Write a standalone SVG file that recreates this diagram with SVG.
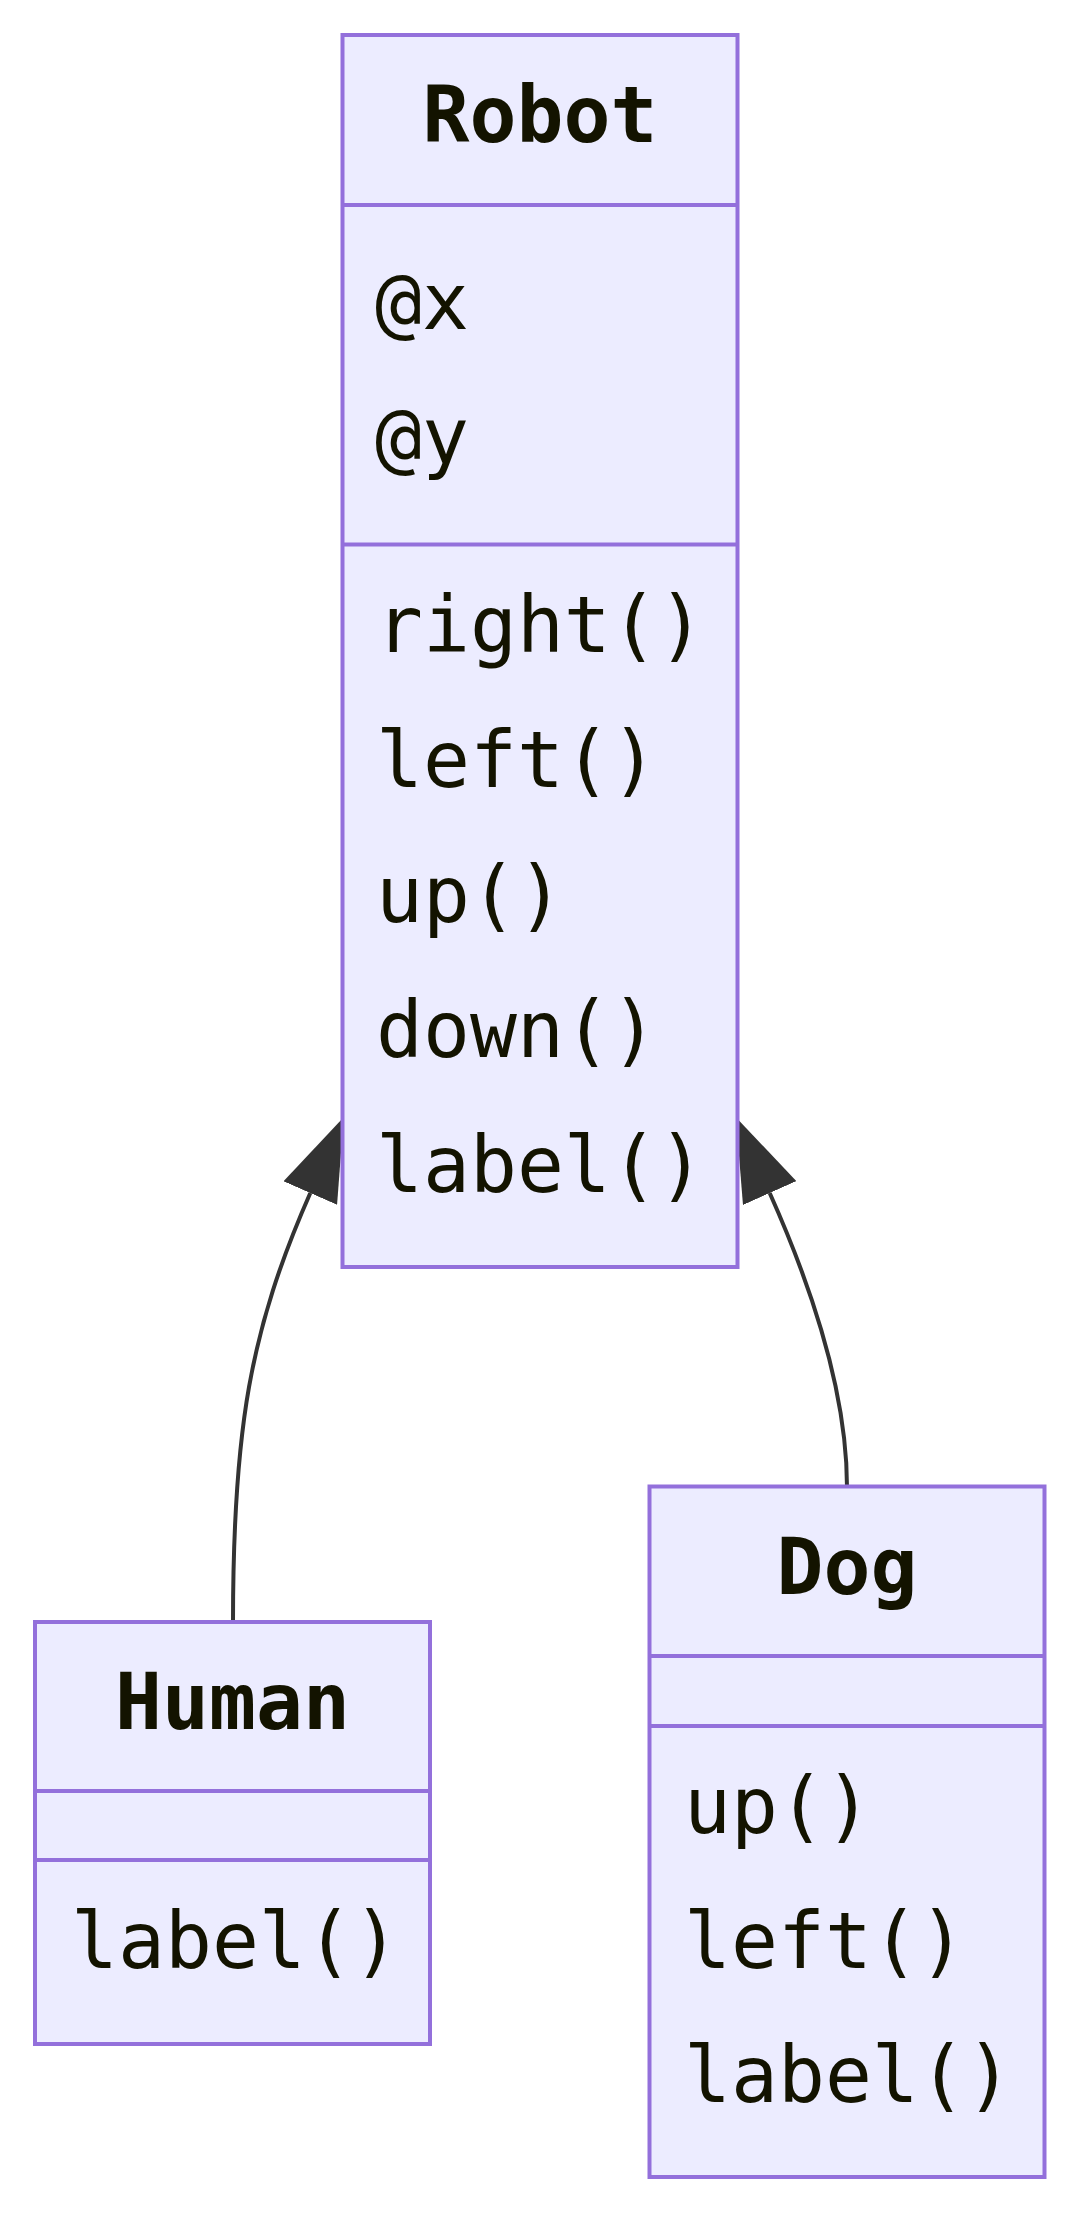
<svg xmlns="http://www.w3.org/2000/svg" width="1080" height="2214" viewBox="0 0 1080 2214">
<defs>
<style>
.box{fill:#ECECFF;stroke:#9370DB;stroke-width:4}
.div{stroke:#9370DB;stroke-width:4;fill:none}
.title{font-family:"DejaVu Sans Mono","Liberation Mono",monospace;font-size:78px;font-weight:bold;fill:#131300;text-anchor:middle}
.mem{font-family:"DejaVu Sans Mono","Liberation Mono",monospace;font-size:78px;fill:#131300}
.edge{fill:none;stroke:#333333;stroke-width:4}
</style>
<marker id="ext" markerUnits="userSpaceOnUse" viewBox="0 0 17 12" refX="0" refY="6" markerWidth="83" markerHeight="58.5" orient="auto">
<path d="M0,0 L17,6 L0,12 Z" fill="#333333"/>
</marker>
</defs>
<rect width="1080" height="2214" fill="#ffffff"/>
<g id="edges">
<path class="edge" d="M233,1622 C233,1430 250,1330 310.3,1193" marker-end="url(#ext)"/>
<path class="edge" d="M847,1487 C847,1410 822,1310 769.7,1193" marker-end="url(#ext)"/>
</g>
<g id="Robot">
<rect class="box" x="342.5" y="35" width="395" height="1232"/>
<line class="div" x1="342.5" y1="205" x2="737.5" y2="205"/>
<line class="div" x1="342.5" y1="544.5" x2="737.5" y2="544.5"/>
<text class="title" x="540" y="142">Robot</text>
<text class="mem" x="375" y="329">@x</text>
<text class="mem" x="375" y="464">@y</text>
<text class="mem" x="376" y="652">right()</text>
<text class="mem" x="376" y="787">left()</text>
<text class="mem" x="376" y="921.5">up()</text>
<text class="mem" x="376" y="1056.5">down()</text>
<text class="mem" x="376" y="1191.5">label()</text>
</g>
<g id="Human">
<rect class="box" x="35" y="1622" width="395" height="422"/>
<line class="div" x1="35" y1="1791" x2="430" y2="1791"/>
<line class="div" x1="35" y1="1860" x2="430" y2="1860"/>
<text class="title" x="232.5" y="1729">Human</text>
<text class="mem" x="71" y="1968">label()</text>
</g>
<g id="Dog">
<rect class="box" x="649.5" y="1486.5" width="395" height="690.5"/>
<line class="div" x1="649.5" y1="1656" x2="1044.5" y2="1656"/>
<line class="div" x1="649.5" y1="1726" x2="1044.5" y2="1726"/>
<text class="title" x="847" y="1594">Dog</text>
<text class="mem" x="684" y="1833">up()</text>
<text class="mem" x="684" y="1968">left()</text>
<text class="mem" x="684" y="2102">label()</text>
</g>
</svg>
